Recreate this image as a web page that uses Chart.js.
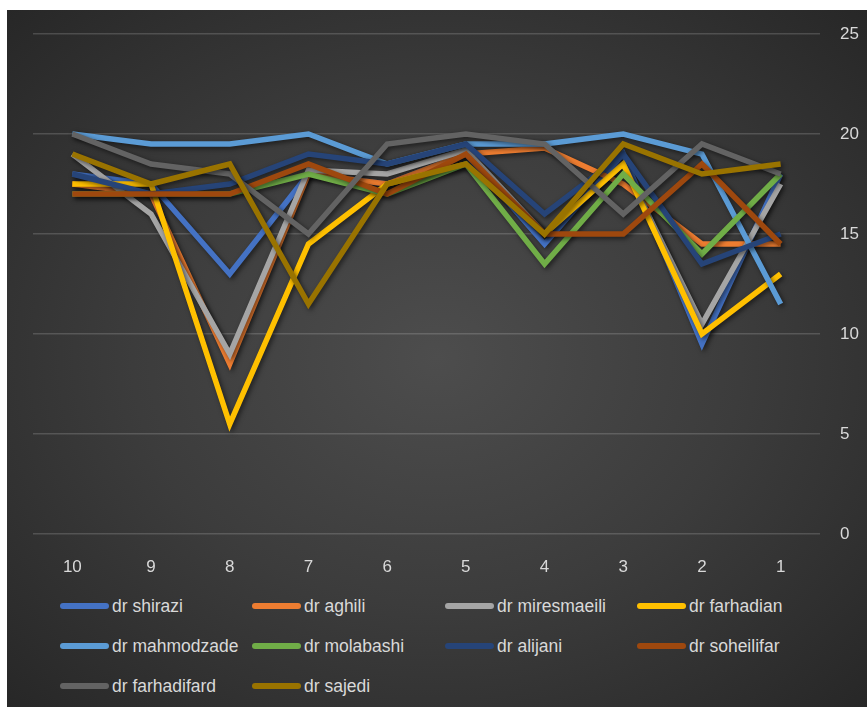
<!DOCTYPE html>
<html>
<head>
<meta charset="utf-8">
<script src="https://cdn.jsdelivr.net/npm/chart.js@4.4.0/dist/chart.umd.min.js"></script>
<style>
  body { margin: 0; background: #fff; width: 867px; height: 707px; overflow: hidden; }
  #panel {
    position: absolute; left: 7px; top: 10px; width: 860px; height: 697px;
    background: radial-gradient(ellipse at 50% 50%, #4d4d4d 0%, #3c3c3c 50%, #272727 100%);
  }
  #wrap { position: absolute; left: 0; top: 0; width: 867px; height: 580px; }
  #legend { position: absolute; left: 0; top: 594px; width: 867px; }
  .item {
    position: absolute; height: 24px; display: flex; align-items: center; white-space: nowrap;
    color: #d9d9d9; font: 17.5px "Liberation Sans", Arial, sans-serif;
  }
  .swatch { width: 49px; height: 6px; border-radius: 3px; margin-right: 3px; flex: none; }
</style>
</head>
<body>
<div id="panel"></div>
<div id="wrap"><canvas id="myChart" width="867" height="580"></canvas></div>
<div id="legend"></div>
<script>
const labels = ['10', '9', '8', '7', '6', '5', '4', '3', '2', '1'];
const names = ['dr shirazi', 'dr aghili', 'dr miresmaeili', 'dr farhadian', 'dr mahmodzade',
  'dr molabashi', 'dr alijani', 'dr soheilifar', 'dr farhadifard', 'dr sajedi'];
const colors = ['#4472C4', '#ED7D31', '#A5A5A5', '#FFC000', '#5B9BD5',
  '#70AD47', '#264478', '#9E480E', '#636363', '#997300'];

const shirazi = [18, 17.5, 13, 18, 17.5, 19, 14.5, 19, 9.5, 18];
const aghili = [17.5, 17, 8.5, 18, 17.5, 19, 19.3, 17.5, 14.5, 14.5];
const miresmaeili = [19, 16, 9, 18.2, 18, 19.2, 15, 18.5, 10.5, 17.5];
const farhadian = [17.5, 17.5, 5.5, 14.5, 17.5, 18.5, 15, 18.5, 10, 13];
const mahmodzade = [20, 19.5, 19.5, 20, 18.5, 19.5, 19.5, 20, 19, 11.5];
const molabashi = [17, 17, 17, 18, 17, 18.5, 13.5, 18, 14, 18];
const alijani = [18, 17, 17.5, 19, 18.5, 19.5, 16, 19, 13.5, 15];
const soheilifar = [17, 17, 17, 18.5, 17, 19, 15, 15, 18.5, 14.5];
const farhadifard = [20, 18.5, 18, 15, 19.5, 20, 19.5, 16, 19.5, 18];
const sajedi = [19, 17.5, 18.5, 11.5, 17.5, 18.5, 15, 19.5, 18, 18.5];

const series = [shirazi, aghili, miresmaeili, farhadian, mahmodzade,
  molabashi, alijani, soheilifar, farhadifard, sajedi];

const font = '"Liberation Sans", Arial, sans-serif';

// excel-like drop shadow under each line
const shadow = {
  id: 'shadow',
  beforeDatasetDraw(chart) {
    const ctx = chart.ctx;
    ctx.save();
    ctx.shadowColor = 'rgba(0,0,0,0.55)';
    ctx.shadowBlur = 5;
    ctx.shadowOffsetX = 2;
    ctx.shadowOffsetY = 2;
  },
  afterDatasetDraw(chart) {
    chart.ctx.restore();
  }
};

new Chart(document.getElementById('myChart'), {
  type: 'line',
  data: {
    labels: labels,
    datasets: series.map((d, i) => ({
      label: names[i],
      data: d,
      borderColor: colors[i],
      backgroundColor: colors[i],
      borderWidth: 5.5,
      pointRadius: 0,
      tension: 0,
      order: series.length - i
    }))
  },
  options: {
    responsive: false,
    animation: false,
    layout: { padding: { left: 33, top: 34, right: 0, bottom: 0 } },
    plugins: { legend: { display: false }, tooltip: { enabled: false } },
    scales: {
      x: {
        offset: true,
        grid: { display: false },
        border: { display: false },
        ticks: { color: '#d9d9d9', font: { family: font, size: 17 }, padding: 15, maxRotation: 0 },
        afterFit(s) { s.height = 46; }
      },
      y: {
        position: 'right',
        min: 0, max: 25,
        grid: { color: 'rgba(255,255,255,0.16)', lineWidth: 1.5, drawTicks: false },
        border: { display: false },
        ticks: { stepSize: 5, color: '#d9d9d9', font: { family: font, size: 17 }, padding: 20 },
        afterFit(s) { s.width = 47; }
      }
    }
  },
  plugins: [shadow]
});

// legend laid out in four columns like the original
const colX = [60, 252, 445, 637];
const rowY = [0, 40, 80];
const legend = document.getElementById('legend');
names.forEach((n, i) => {
  const el = document.createElement('div');
  el.className = 'item';
  el.style.left = colX[i % 4] + 'px';
  el.style.top = rowY[Math.floor(i / 4)] + 'px';
  el.innerHTML = '<span class="swatch" style="background:' + colors[i] + '"></span>' + n;
  legend.appendChild(el);
});
</script>
</body>
</html>
